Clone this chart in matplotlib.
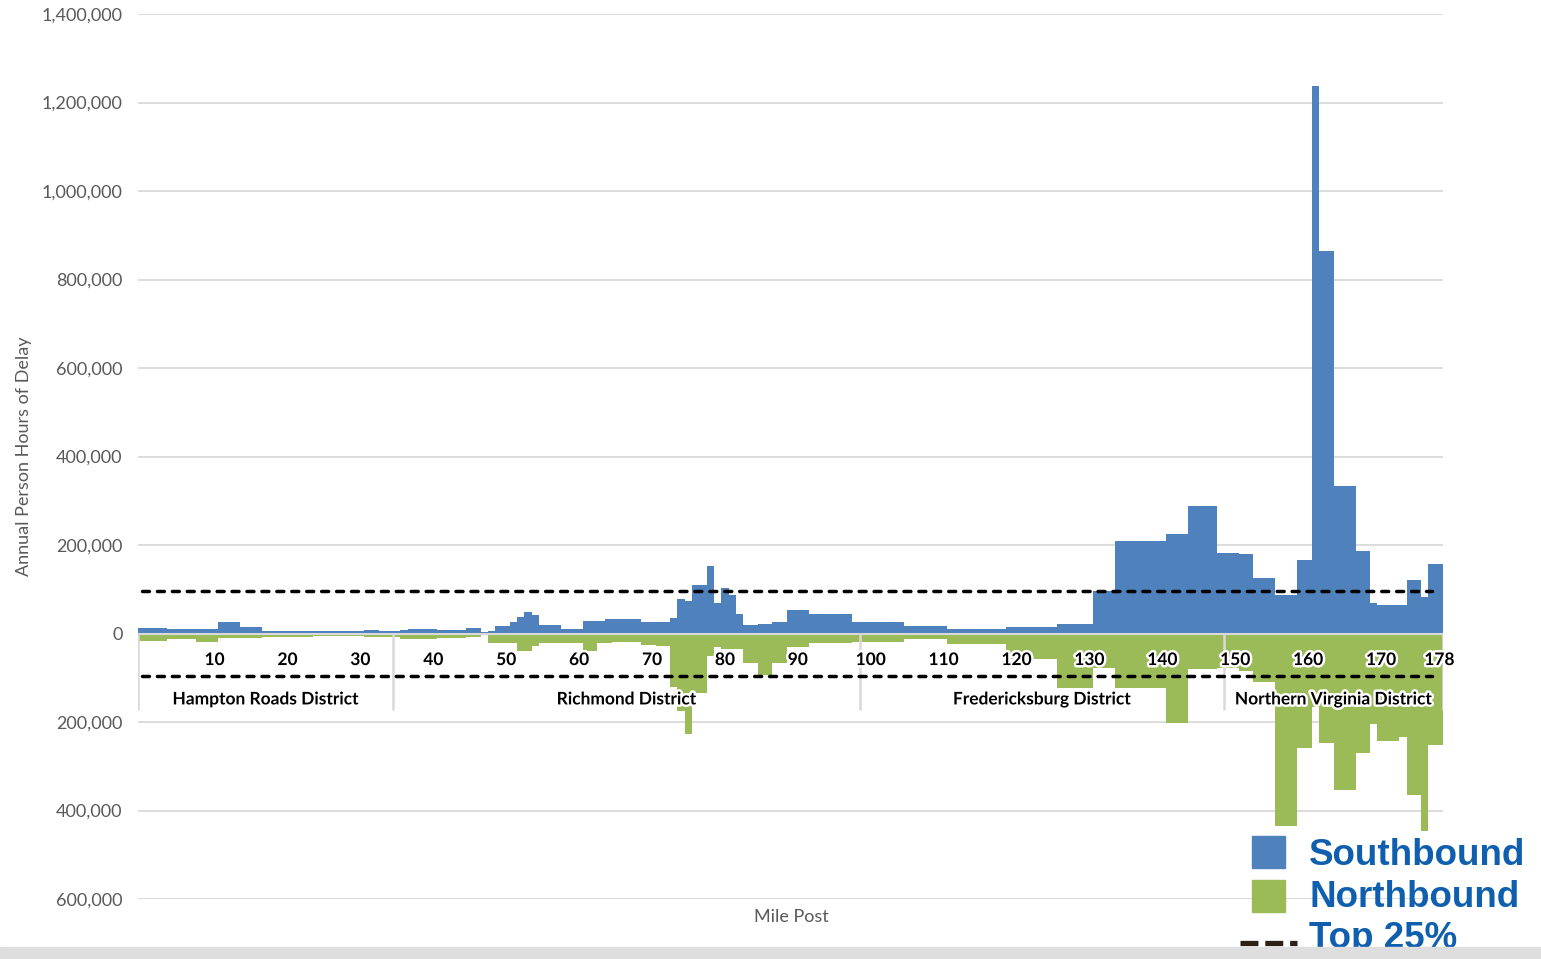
import numpy as np
import matplotlib.pyplot as plt
import matplotlib.patheffects as pe
from matplotlib.patches import Rectangle
from matplotlib.lines import Line2D
from matplotlib.ticker import FuncFormatter

# mile posts 0..178, values are constant over runs of mile posts
last_mile = 178
sb_start = [0, 4, 11, 14, 17, 31, 33, 36, 37, 41, 45, 47, 48, 49, 51, 52, 53, 54, 55, 58,
            61, 64, 69, 73, 74, 75, 76, 78, 79, 80, 81, 82, 83, 85, 87, 89, 92, 98, 105, 111,
            119, 126, 131, 134, 141, 144, 148, 151, 153, 156, 159, 161, 162, 164, 167, 169, 170,
            174, 176, 177]
sb_value = [13000, 10000, 26000, 14000, 6000, 9000, 6000, 7500, 10500, 7500, 13000, 4000, 5000,
            16500, 26000, 37000, 48000, 41000, 19000, 11000, 28500, 33000, 26000, 35000, 78000,
            73000, 109000, 152000, 69000, 103000, 88000, 43000, 19000, 22500, 26000, 52000, 45000,
            25500, 16500, 10500, 15000, 22000, 96000, 209000, 224000, 288000, 182000, 179000,
            125000, 88000, 167000, 1237000, 864000, 334000, 187000, 70000, 64000, 122000, 83000,
            156000]

nb_start = [0, 4, 8, 11, 17, 24, 31, 36, 37, 41, 45, 47, 48, 52, 54, 55, 58, 61, 63, 65, 69,
            71, 73, 74, 75, 76, 78, 79, 80, 83, 85, 87, 89, 92, 98, 105, 111, 119, 126, 131, 134,
            141, 144, 148, 151, 153, 156, 159, 161, 162, 164, 167, 169, 170, 173, 174, 176, 177]
nb_value = [17000, 13500, 19500, 10000, 7500, 5000, 7500, 12000, 13500, 11000, 7500, 2000, 21000,
            38500, 28500, 21000, 22500, 40000, 21000, 19000, 26000, 28000, 122000, 175000, 228000,
            134000, 51000, 30000, 36000, 66000, 94000, 66000, 30000, 21000, 19000, 12000, 24000,
            57000, 123000, 77000, 123000, 202000, 80000, 77000, 85000, 110000, 436000, 258000,
            165000, 248000, 354000, 269000, 205000, 243000, 233000, 365000, 446000, 253000]

top25_sb = 95000
top25_nb = 97000

tick_miles = [10, 20, 30, 40, 50, 60, 70, 80, 90, 100, 110, 120, 130, 140, 150, 160, 170, 178]
districts = ["Hampton Roads District", "Richmond District",
             "Fredericksburg District", "Northern Virginia District"]
district_edges = [-0.5, 34.5, 98.5, 148.5, 178.5]

miles = np.arange(0, last_mile + 1)
sb = np.repeat(sb_value, np.diff(sb_start + [last_mile + 1]))
nb = np.repeat(nb_value, np.diff(nb_start + [last_mile + 1]))
edges = np.append(miles - 0.5, miles[-1] + 0.5)

blue = '#4F81BD'
green = '#9BBB59'
grid_c = '#D9D9D9'
label_c = '#595959'
legend_c = '#0F5FAE'

W, H = 1541, 959
fig = plt.figure(figsize=(W / 100, H / 100), dpi=100)
ax = fig.add_axes([138 / W, 1 - 899 / H, 1305 / W, 885 / H])

ax.stairs(sb, edges, baseline=0, fill=True, color=blue, zorder=2)
ax.stairs(-nb, edges, baseline=0, fill=True, color=green, zorder=2)
ax.axhline(0, color=grid_c, lw=1.5, zorder=3)

ax.set_xlim(edges[0], edges[-1])
ax.set_ylim(-600000, 1400000)
ax.set_yticks(np.arange(-600000, 1400001, 200000))
ax.yaxis.set_major_formatter(FuncFormatter(lambda v, p: f"{abs(v):,.0f}"))
ax.set_xticks([])
ax.grid(axis='y', color=grid_c, lw=1.3, zorder=0)
ax.set_axisbelow(True)
for s in ax.spines.values():
    s.set_visible(False)
ax.tick_params(axis='y', length=0, pad=11, labelsize=13, labelcolor=label_c)
for t in ax.get_yticklabels():
    t.set_family('Lato')

# top 25% thresholds
dash_kw = dict(color='black', lw=2.5, dash_capstyle='round', zorder=4)
ax.plot([miles[0], miles[-2]], [top25_sb, top25_sb], dashes=(2.0, 2.3), **dash_kw)
ax.plot([miles[0], miles[-2]], [-top25_nb, -top25_nb], dashes=(2.0, 2.3), **dash_kw)

# multi-level category axis
glow = [pe.withStroke(linewidth=3.5, foreground='white')]
ax.vlines(district_edges, -172000, 0, color=grid_c, lw=1.8, zorder=3)
for m in tick_miles:
    ax.text(m, -60000, str(m), ha='center', va='center', fontsize=12.5, fontweight='bold',
            family='Lato', color='black', path_effects=glow, zorder=5)
for name, a, b in zip(districts, district_edges[:-1], district_edges[1:]):
    ax.text((a + b) / 2, -149000, name, ha='center', va='center', fontsize=12.5,
            fontweight='bold', family='Lato', color='black', path_effects=glow, zorder=5)

ax.set_xlabel('Mile Post', fontsize=13, color=label_c, family='Lato')
ax.set_ylabel('Annual Person Hours of Delay', fontsize=13, color=label_c, family='Lato')
ax.xaxis.set_label_coords(0.501, -0.011)
ax.yaxis.set_label_coords(-0.081, 0.5)

# legend drawn by hand
def fx(x):
    return x / W

def fy(y):
    return 1 - y / H

fig.patches.append(Rectangle((fx(1252), fy(868)), 33 / W, 32 / H, color=blue,
                             transform=fig.transFigure))
fig.patches.append(Rectangle((fx(1252), fy(912)), 33 / W, 32 / H, color=green,
                             transform=fig.transFigure))
fig.lines.append(Line2D([fx(1240), fx(1297)], [fy(943), fy(943)], color='#2B2116', lw=3.8,
                       dashes=(3.4, 1.3), transform=fig.transFigure))
leg_kw = dict(fontsize=26.5, fontweight='bold', family='Liberation Sans', color=legend_c,
              va='baseline', ha='left')
fig.text(fx(1309), fy(865), 'Southbound', **leg_kw)
fig.text(fx(1309), fy(907), 'Northbound', **leg_kw)
fig.text(fx(1309), fy(948), 'Top 25%', **leg_kw)

# grey strip along the bottom of the slide
fig.patches.append(Rectangle((0, 0), 1, 12 / H, color='#DEDEDE', transform=fig.transFigure,
                             zorder=10))

fig.savefig('out.png', dpi=100)
